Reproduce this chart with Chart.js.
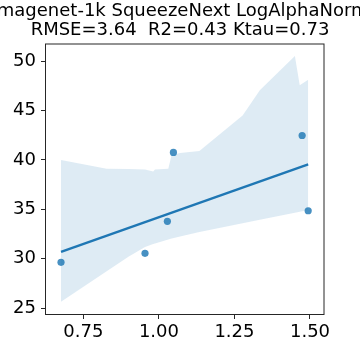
<!DOCTYPE html>
<html>
<head>
<meta charset="utf-8">
<script src="https://cdn.jsdelivr.net/npm/chart.js@4/dist/chart.umd.min.js"></script>
<style>
  html, body { margin: 0; padding: 0; background: #fff; }
  #wrap { width: 360px; height: 360px; }
</style>
</head>
<body>
<div id="wrap"><canvas id="chart" width="360" height="360"></canvas></div>
<script>
// scatter points
const pointX = [0.676, 0.954, 1.028, 1.048, 1.474, 1.494];
const pointY = [29.65, 30.56, 33.79, 40.76, 42.47, 34.86];

// fitted line end points
const fitX = [0.676, 1.494];
const fitY = [30.70, 39.55];

// confidence band (upper / lower) on a shared x grid
const bandX     = [0.676, 0.827, 0.899, 0.954, 0.981, 0.987, 1.031, 1.042, 1.070, 1.134, 1.277, 1.334, 1.450, 1.466, 1.494];
const bandUpper = [39.98, 39.10, 39.07, 39.04, 38.84, 39.04, 39.10, 40.50, 40.70, 40.90, 44.50, 47.05, 50.50, 47.56, 48.10];
const bandLower = [25.67, 28.74, 30.20, 31.20, 31.50, 31.55, 31.95, 32.05, 32.25, 32.70, 33.60, 33.95, 34.67, 34.77, 34.93];

const xTicks = [0.75, 1.00, 1.25, 1.50];
const yTicks = [25, 30, 35, 40, 45, 50];

const titleLines = ["Imagenet-1k SqueezeNext LogAlphaNorm", "RMSE=3.64  R2=0.43 Ktau=0.73"];

const blue = "#1f77b4";
const axisColor = "#262626";
const font = "DejaVu Sans";

const toXY = (xs, ys) => xs.map((x, i) => ({ x: x, y: ys[i] }));

// full box round the plot, plus the title drawn without squeezing (it gets clipped, as in matplotlib)
const frame = {
  id: "frame",
  afterDraw(chart) {
    const a = chart.chartArea;
    const ctx = chart.ctx;
    ctx.save();
    ctx.strokeStyle = axisColor;
    ctx.lineWidth = 1;
    ctx.strokeRect(a.left + 0.5, a.top + 0.5, a.right - a.left - 1, a.bottom - a.top - 1);

    ctx.fillStyle = "#000";
    ctx.font = "18px '" + font + "'";
    ctx.textAlign = "center";
    ctx.textBaseline = "middle";
    ctx.fillText(titleLines[0], 180, 11.5);
    ctx.fillText(titleLines[1], 180, 30.5);
    ctx.restore();
  }
};

new Chart(document.getElementById("chart"), {
  type: "line",
  data: {
    datasets: [
      {
        label: "points",
        type: "scatter",
        data: toXY(pointX, pointY),
        backgroundColor: "rgba(31,119,180,0.82)",
        borderWidth: 0,
        pointRadius: 3.6
      },
      {
        label: "fit",
        data: toXY(fitX, fitY),
        borderColor: blue,
        borderWidth: 2.4,
        pointRadius: 0,
        fill: false
      },
      {
        label: "upper",
        data: toXY(bandX, bandUpper),
        borderWidth: 0,
        borderColor: "rgba(0,0,0,0)",
        pointRadius: 0,
        backgroundColor: "rgba(31,119,180,0.15)",
        fill: "+1"
      },
      {
        label: "lower",
        data: toXY(bandX, bandLower),
        borderWidth: 0,
        borderColor: "rgba(0,0,0,0)",
        pointRadius: 0,
        fill: false
      }
    ]
  },
  options: {
    responsive: false,
    animation: false,
    events: [],
    layout: { padding: { left: 0, right: 35.5, top: 43.5, bottom: 0 } },
    plugins: {
      legend: { display: false },
      tooltip: { enabled: false },
      title: { display: false }
    },
    scales: {
      x: {
        type: "linear",
        min: 0.623,
        max: 1.548,
        afterBuildTicks: (s) => { s.ticks = xTicks.map((v) => ({ value: v })); },
        afterFit: (s) => { s.height = 45; },
        ticks: {
          color: "#000",
          font: { family: font, size: 18 },
          padding: 3,
          maxRotation: 0,
          callback: (v) => v.toFixed(2)
        },
        grid: { drawOnChartArea: false, drawTicks: true, tickLength: 4, color: axisColor },
        border: { display: false }
      },
      y: {
        type: "linear",
        min: 24.32,
        max: 51.77,
        afterBuildTicks: (s) => { s.ticks = yTicks.map((v) => ({ value: v })); },
        afterFit: (s) => { s.width = 45; },
        ticks: {
          color: "#000",
          font: { family: font, size: 18 },
          padding: 5,
          callback: (v) => String(v)
        },
        grid: { drawOnChartArea: false, drawTicks: true, tickLength: 4, color: axisColor },
        border: { display: false }
      }
    }
  },
  plugins: [frame]
});
</script>
</body>
</html>
